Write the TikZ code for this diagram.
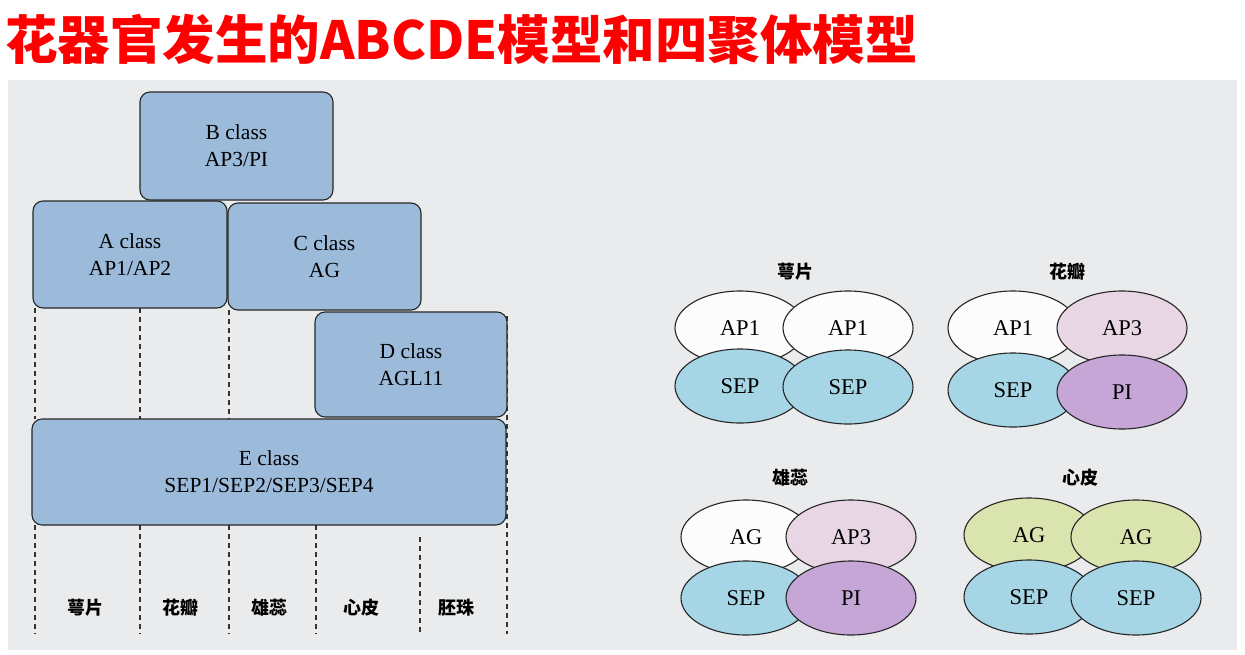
\documentclass[tikz,border=0pt]{standalone}
\usepackage{fontspec}
\setmainfont{Liberation Serif}
\newfontfamily\cjk{Noto Sans CJK SC}
\usetikzlibrary{shapes.geometric}
\definecolor{bggray}{HTML}{E9EBEC}
\definecolor{boxblue}{HTML}{9CBBDB}
\definecolor{sepcol}{HTML}{A6D6E6}
\definecolor{apthree}{HTML}{E8D6E4}
\definecolor{picol}{HTML}{C6A6D6}
\definecolor{agcol}{HTML}{D9E4AE}
\definecolor{whitecol}{HTML}{FCFCFC}
\definecolor{titlered}{HTML}{FF0000}
\tikzset{
  clsbox/.style={draw=black!85, line width=1.1pt, rounded corners=10pt, fill=boxblue,
    align=center, inner sep=0pt, font=\fontsize{21.5}{27}\selectfont},
  gene/.style={ellipse, draw=black!85, line width=1.1pt, minimum width=130pt,
    minimum height=74pt, inner sep=0pt, font=\fontsize{22.5}{22.5}\selectfont},
  organ/.style={font=\cjk\bfseries\fontsize{18}{18}\selectfont, inner sep=0pt},
  guide/.style={draw=black!80, line width=1.2pt, dash pattern=on 5pt off 4pt}
}
\begin{document}
\begin{tikzpicture}[x=1pt,y=-1pt]
\useasboundingbox (0,0) rectangle (1245,654);
\fill[white] (0,0) rectangle (1245,654);
\fill[bggray] (8,80) rectangle (1237,650);
% title
\node[anchor=west, inner sep=0pt, text=titlered, font=\cjk\bfseries\fontsize{52.5}{52.5}\selectfont] (title) at (5,39) {花器官发生的ABCDE模型和四聚体模型};

% guide coordinates
\coordinate (atop) at (35,308);  \coordinate (amid) at (35,419);
\coordinate (btop) at (140,308); \coordinate (bmid) at (140,419);
\coordinate (ctop) at (229,310); \coordinate (cmid) at (229,419);
\coordinate (alow) at (35,525);  \coordinate (abot) at (35,634);
\coordinate (blow) at (140,525); \coordinate (bbot) at (140,634);
\coordinate (clow) at (229,525); \coordinate (cbot) at (229,634);
\coordinate (dlow) at (316,525); \coordinate (dbot) at (316,634);
\coordinate (elow) at (420,537); \coordinate (ebot) at (420,634);
\coordinate (fupper) at (507,316); \coordinate (fbot) at (507,634);
\draw[guide] (atop) -- (amid);
\draw[guide] (btop) -- (bmid);
\draw[guide] (ctop) -- (cmid);
\draw[guide] (fupper) -- (fbot);
\draw[guide] (alow) -- (abot);
\draw[guide] (blow) -- (bbot);
\draw[guide] (clow) -- (cbot);
\draw[guide] (dlow) -- (dbot);
\draw[guide] (elow) -- (ebot);

% class boxes
\node[clsbox, minimum width=193pt, minimum height=108pt] (B) at (236.5,146) {B class\\AP3/PI};
\node[clsbox, minimum width=194pt, minimum height=107pt] (A) at (130,254.5) {A class\\AP1/AP2};
\node[clsbox, minimum width=193pt, minimum height=107pt] (C) at (324.5,256.5) {C class\\AG};
\node[clsbox, minimum width=192pt, minimum height=105pt] (D) at (411,364.5) {D class\\AGL11};
\node[clsbox, minimum width=474pt, minimum height=106pt] (E) at (269,472) {E class\\SEP1/SEP2/SEP3/SEP4};

% organ labels
\node[organ] (o1) at (85,608) {萼片};
\node[organ] (o2) at (180,608) {花瓣};
\node[organ] (o3) at (269,608) {雄蕊};
\node[organ] (o4) at (361,608) {心皮};
\node[organ] (o5) at (456,608) {胚珠};

% group 1: sepal
\node[organ] (g1t) at (795,272) {萼片};
\node[gene, fill=whitecol] (g1a) at (740,328) {AP1};
\node[gene, fill=whitecol] (g1b) at (848,328) {AP1};
\node[gene, fill=sepcol] (g1c) at (740,386) {SEP};
\node[gene, fill=sepcol] (g1d) at (848,387) {SEP};

% group 2: petal
\node[organ] (g2t) at (1067,272) {花瓣};
\node[gene, fill=whitecol] (g2a) at (1013,328) {AP1};
\node[gene, fill=apthree] (g2b) at (1122,328) {AP3};
\node[gene, fill=sepcol] (g2c) at (1013,390) {SEP};
\node[gene, fill=picol] (g2d) at (1122,392) {PI};

% group 3: stamen
\node[organ] (g3t) at (790,478) {雄蕊};
\node[gene, fill=whitecol] (g3a) at (746,537) {AG};
\node[gene, fill=apthree] (g3b) at (851,537) {AP3};
\node[gene, fill=sepcol] (g3c) at (746,598) {SEP};
\node[gene, fill=picol] (g3d) at (851,598) {PI};

% group 4: carpel
\node[organ] (g4t) at (1080,478) {心皮};
\node[gene, fill=agcol] (g4a) at (1029,535) {AG};
\node[gene, fill=agcol] (g4b) at (1136,537) {AG};
\node[gene, fill=sepcol] (g4c) at (1029,597) {SEP};
\node[gene, fill=sepcol] (g4d) at (1136,598) {SEP};
\end{tikzpicture}
\end{document}
